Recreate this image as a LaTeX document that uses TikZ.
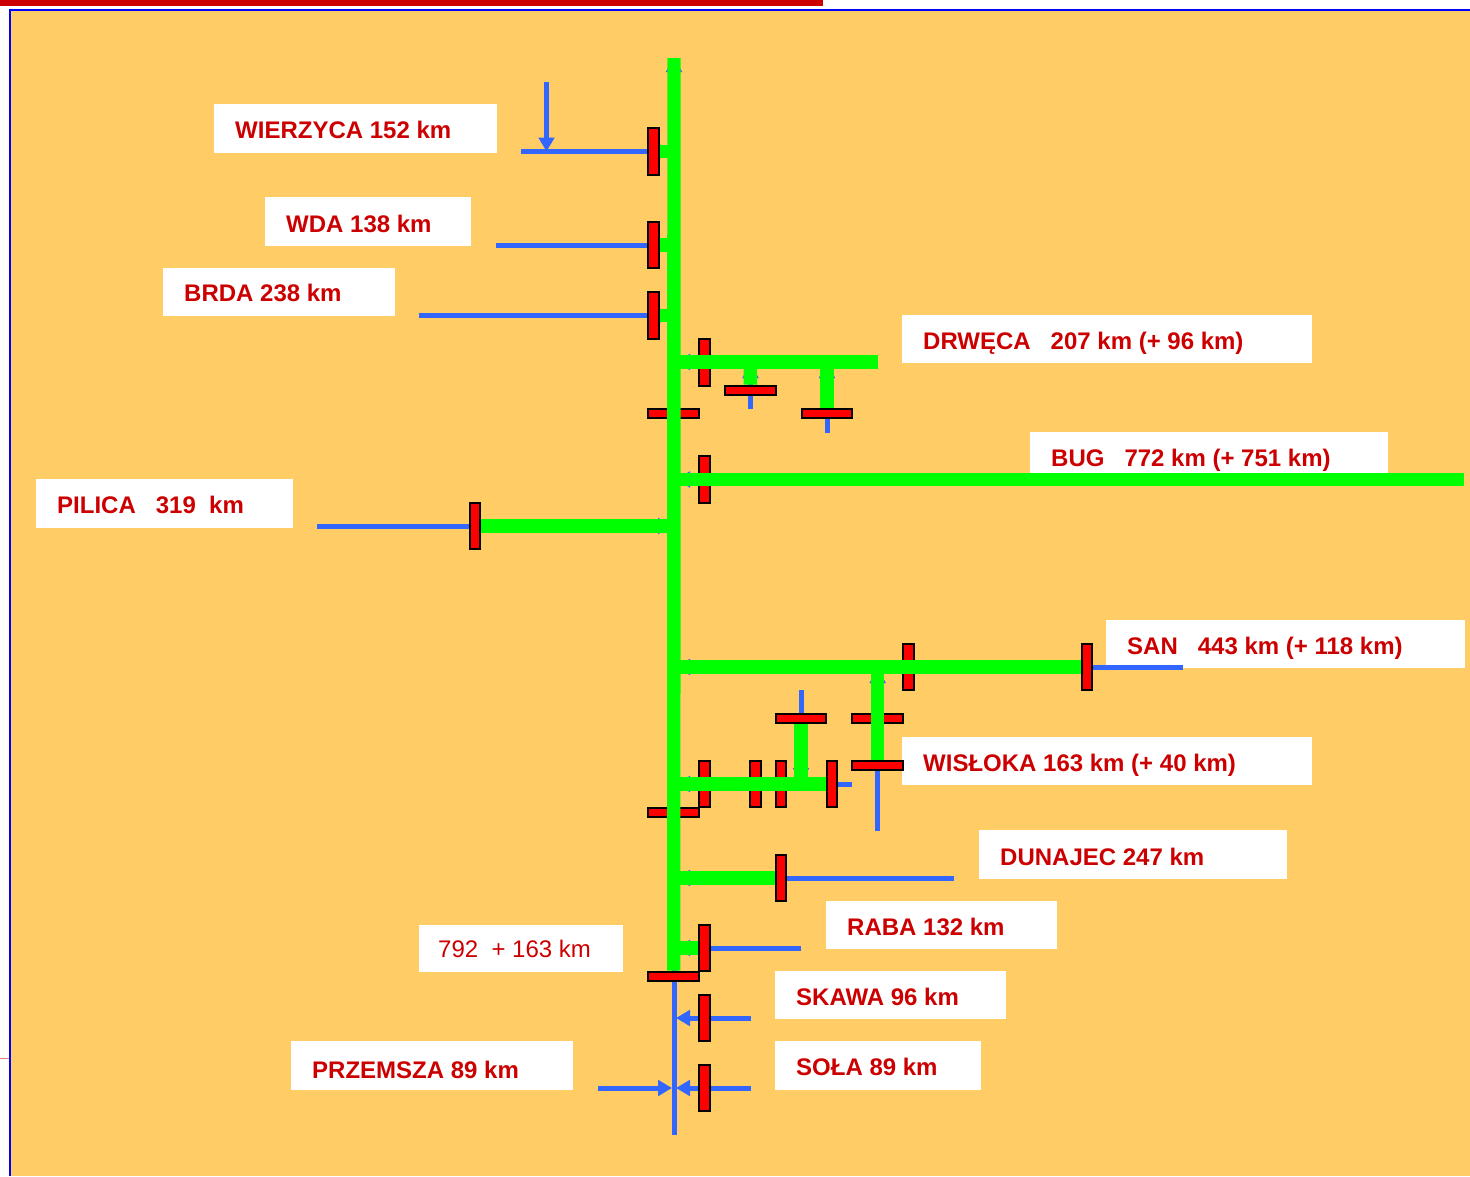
\documentclass[tikz,border=0pt]{standalone}
\usepackage{fontspec}
\setmainfont{Liberation Sans}
\usetikzlibrary{arrows.meta}
\pgfdeclarelayer{backL}
\pgfdeclarelayer{blueL}
\pgfdeclarelayer{underL}
\pgfdeclarelayer{greenL}
\pgfsetlayers{backL,blueL,underL,greenL,main}
\definecolor{riverblue}{HTML}{3366FF}
\definecolor{rivergreen}{HTML}{00FF00}
\definecolor{labelred}{HTML}{CC0000}
\definecolor{paper}{HTML}{FFCC66}
\definecolor{framblue}{HTML}{0000FF}
\tikzset{
  x=1pt,y=-1pt,
  tbox/.style={fill=white,draw=none,anchor=north west,inner ysep=0pt,inner xsep=21pt,
    minimum height=48.5pt,text height=24pt,text depth=4pt,align=flush left,text=labelred,
    font=\fontsize{24}{28}\selectfont\bfseries},
  lowertext/.style={text height=25pt,text depth=3pt},
  vbar/.style={draw=black,fill=red,line width=2pt,inner sep=0pt,minimum width=10.4pt,minimum height=46.5pt},
  hbar/.style={draw=black,fill=red,line width=2pt,inner sep=0pt,minimum width=50.5pt,minimum height=9pt},
  gline/.style={draw=rivergreen,line width=13.4pt},
  bline/.style={draw=riverblue,line width=5pt},
  barrow/.style={bline,-{Triangle[length=14pt,width=15.5pt]},shorten >=2pt},
}
\begin{document}
\begin{tikzpicture}
\useasboundingbox (0,0) rectangle (1470,1176);
% page furniture
\begin{pgfonlayer}{backL}
  \fill[white] (0,0) rectangle (1470,1176);
  \fill[paper] (10.3,9.5) rectangle (1470,1176);
  \draw[framblue,line width=2pt] (10.3,1176) -- (10.3,9.5) -- (1470,9.5);
  \fill[labelred] (0,0) rectangle (823,6);
  \draw[labelred!50,line width=1pt] (0,1058) -- (9,1058);
  \node[tbox,text width=241pt] (wierzyca) at (214,104) {WIERZYCA 152 km};
  \node[tbox,lowertext,text width=164pt] (wda) at (265,197) {WDA 138 km};
  \node[tbox,text width=190pt] (brda) at (163,267.5) {BRDA 238 km};
  \node[tbox,lowertext,text width=368pt] (drweca) at (902,314.5) {DRWĘCA~~~207 km (+ 96 km)};
  \node[tbox,text width=316pt] (bug) at (1030,432) {BUG~~~772 km (+ 751 km)};
  \node[tbox,text width=215pt] (pilica) at (36,479) {PILICA~~~319~~km};
  \node[tbox,lowertext,text width=317pt] (san) at (1106,619.5) {SAN~~~443 km (+ 118 km)};
  \node[tbox,lowertext,text width=368pt] (wisloka) at (902,736.5) {WISŁOKA 163 km (+ 40 km)};
  \node[tbox,lowertext,text width=266pt] (dunajec) at (979,830) {DUNAJEC 247 km};
  \node[tbox,lowertext,text width=189pt] (raba) at (826,900.5) {RABA 132 km};
  \node[tbox,lowertext,text width=189pt] (skawa) at (775,970.5) {SKAWA 96 km};
  \node[tbox,text width=164pt] (sola) at (775,1041) {SOŁA 89 km};
  \node[tbox,text width=240pt,text height=30pt,text depth=4pt] (przemsza) at (291,1041) {PRZEMSZA 89 km};
  \node[tbox,text width=166pt,inner xsep=19pt,minimum height=47pt,text height=23pt,text depth=5pt,
        font=\fontsize{24}{28}\selectfont] (sum) at (419,925) {792~~+ 163 km};
\end{pgfonlayer}
% junctions on the trunk and branches
\coordinate (top) at (674,58);
\coordinate (bottom) at (674,1135);
\foreach \n/\y in {jwie/151.5,jwda/245,jbrd/315.5,jdrw/362,jbug/479.5,jpil/526,jsan/667,jwis/784,jdun/878,jrab/948,jska/1018,jprz/1088}
  \coordinate (\n) at (674,\y);
\coordinate (jd1) at (750.5,362);
\coordinate (jd2) at (827,362);
\coordinate (jw1) at (801,784);
\coordinate (jw2) at (877.7,667);
% free ends
\coordinate (ewie) at (521,151.5);
\coordinate (jwi2) at (546.5,151.5);
\coordinate (ewi2) at (546.5,82);
\coordinate (ewda) at (496,245);
\coordinate (ebrd) at (419,315.5);
\coordinate (edrw) at (878,362);
\coordinate (ed1) at (750.5,409);
\coordinate (ed2) at (827,432.5);
\coordinate (ebug) at (1464,479.5);
\coordinate (epil) at (317,526);
\coordinate (esan) at (1183,667);
\coordinate (ew1) at (801,690);
\coordinate (ew2) at (877.7,830.5);
\coordinate (ewis) at (852.3,784);
\coordinate (edun) at (954,878);
\coordinate (erab) at (801,948);
\coordinate (eska) at (751,1018);
\coordinate (esol) at (751,1088);
\coordinate (eprz) at (598,1088);
% bars crossed by the green lines
\begin{pgfonlayer}{underL}
  \node[vbar] (bdrw) at (704.4,362.3) {};
  \node[hbar] (bdr2) at (673.7,413.7) {};
  \node[vbar] (bbug) at (704.4,479.5) {};
  \node[vbar] (bsan) at (908.4,667) {};
  \node[hbar] (bw2a) at (877.7,718.3) {};
  \node[vbar] (bw1) at (704.4,784) {};
  \node[vbar] (bw2) at (755.4,784) {};
  \node[vbar] (bw3) at (781,784) {};
  \node[hbar] (bw4) at (673.7,812) {};
\end{pgfonlayer}
% bars on top of the lines
\node[vbar] (bwie) at (653.5,151.5) {};
\node[vbar] (bwda) at (653.5,245) {};
\node[vbar] (bbrd) at (653.5,315.5) {};
\node[hbar] (bd1) at (750.3,390.2) {};
\node[hbar] (bd2) at (827,413.7) {};
\node[vbar] (bpil) at (475,526) {};
\node[vbar] (bsa2) at (1087,667) {};
\node[hbar] (bw5) at (801,718.3) {};
\node[hbar] (bw6) at (877.7,765.3) {};
\node[vbar] (bw7) at (832,784) {};
\node[vbar] (bdun) at (781,878) {};
\node[vbar] (brab) at (704.4,948) {};
\node[hbar] (bmain) at (673.7,976) {};
\node[vbar] (bska) at (704.4,1018) {};
\node[vbar] (bsol) at (704.4,1088) {};
% blue rivers
\begin{pgfonlayer}{blueL}
  \draw[bline,-{Triangle[length=14pt,width=15.5pt]}] (bottom) -- (top);
  \draw[barrow] (ewie) -- (jwie);
  \draw[bline,-{Triangle[length=14pt,width=15.5pt]}] (ewi2) -- (jwi2);
  \draw[barrow] (ewda) -- (jwda);
  \draw[barrow] (ebrd) -- (jbrd);
  \draw[barrow] (edrw) -- (jdrw);
  \draw[barrow] (ed1) -- (jd1);
  \draw[barrow] (ed2) -- (jd2);
  \draw[barrow] (ebug) -- (jbug);
  \draw[barrow] (epil) -- (jpil);
  \draw[barrow] (esan) -- (jsan);
  \draw[barrow] (ew1) -- (jw1);
  \draw[barrow] (ew2) -- (jw2);
  \draw[barrow] (ewis) -- (jwis);
  \draw[barrow] (edun) -- (jdun);
  \draw[barrow] (erab) -- (jrab);
  \draw[barrow] (eska) -- (jska);
  \draw[barrow] (esol) -- (jprz);
  \draw[barrow] (eprz) -- (jprz);
\end{pgfonlayer}
% green navigable stretches
\begin{pgfonlayer}{greenL}
  \draw[gline] (top) -- (bmain);
  \draw[gline] (bwie) -- (jwie);
  \draw[gline] (bwda) -- (jwda);
  \draw[gline] (bbrd) -- (jbrd);
  \draw[gline] (jdrw) -- (edrw);
  \draw[gline] (jd1) -- (bd1);
  \draw[gline] (jd2) -- (bd2);
  \draw[gline] (jbug) -- (ebug);
  \draw[gline] (jpil) -- (bpil);
  \draw[gline] (jsan) -- (bsa2);
  \draw[gline] (jw2) -- (bw6);
  \draw[gline] (jwis) -- (bw7);
  \draw[gline] (jw1) -- (bw5);
  \draw[gline] (jdun) -- (bdun);
  \draw[gline] (jrab) -- (brab);
\end{pgfonlayer}
\end{tikzpicture}
\end{document}
